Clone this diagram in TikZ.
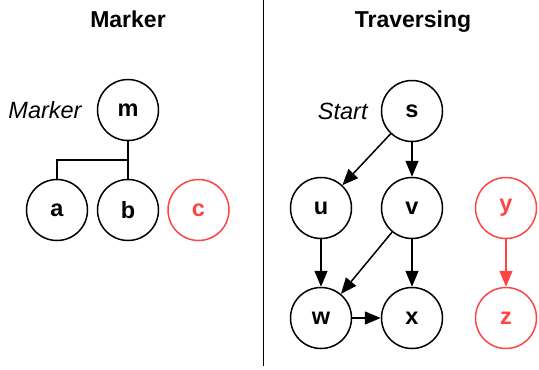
\documentclass[tikz,border=0pt]{standalone}
\usepackage{fontspec}
\setmainfont{Liberation Sans}
\usetikzlibrary{positioning,arrows.meta}
\definecolor{markred}{HTML}{FF4444}

\begin{document}
\begin{tikzpicture}[x=1pt, y=-1pt, >={Triangle[length=16pt,width=13pt]},
    vertex/.style={circle, draw, line width=1.5pt, minimum size=61pt, inner sep=0pt, font=\fontsize{23.5}{25}\selectfont\bfseries},
    marked/.style={vertex, draw=markred, text=markred},
    edge/.style={->, line width=1.5pt},
    note/.style={inner sep=0pt, font=\fontsize{23.5}{25}\selectfont\itshape},
    title/.style={anchor=base, inner sep=0pt, font=\fontsize{23}{25}\selectfont\bfseries}]
    \useasboundingbox (0,0) rectangle (539,370);

    % Titles and divider
    \node[title] (tmark) at (128,27) {Marker};
    \node[title] (ttrav) at (413,27) {Traversing};
    \coordinate (divtop) at (263.5,0);
    \coordinate (divbot) at (263.5,366);
    \draw[line width=1pt] (divtop) -- (divbot);

    % Left: marker
    \node[vertex] (m) at (128,110) {m};
    \node[note, left=15pt of m] (mlabel) {Marker};
    \node[vertex] (a) at (57,210) {a};
    \node[vertex] (b) at (128,210) {b};
    \node[marked] (c) at (198.5,210) {c};
    \coordinate (fork) at (128,160);
    \draw[line width=1.5pt] (m) -- (b);
    \draw[line width=1.5pt] (fork) -| (a);

    % Right: traversing
    \node[vertex] (s) at (412,111) {s};
    \node[note, left=13pt of s] (slabel) {Start};
    \node[vertex] (u) at (321,208) {u};
    \node[vertex] (v) at (412,208) {v};
    \node[vertex] (w) at (321,318) {w};
    \node[vertex] (x) at (412,318) {x};
    \node[marked] (y) at (506,208) {y};
    \node[marked] (z) at (506,318) {z};

    \draw[edge] (s) -- (u);
    \draw[edge] (s) -- (v);
    \draw[edge] (u) -- (w);
    \draw[edge] (v) -- (w);
    \draw[edge] (v) -- (x);
    \draw[edge] (w) -- (x);
    \draw[edge, markred] (y) -- (z);
\end{tikzpicture}
\end{document}
